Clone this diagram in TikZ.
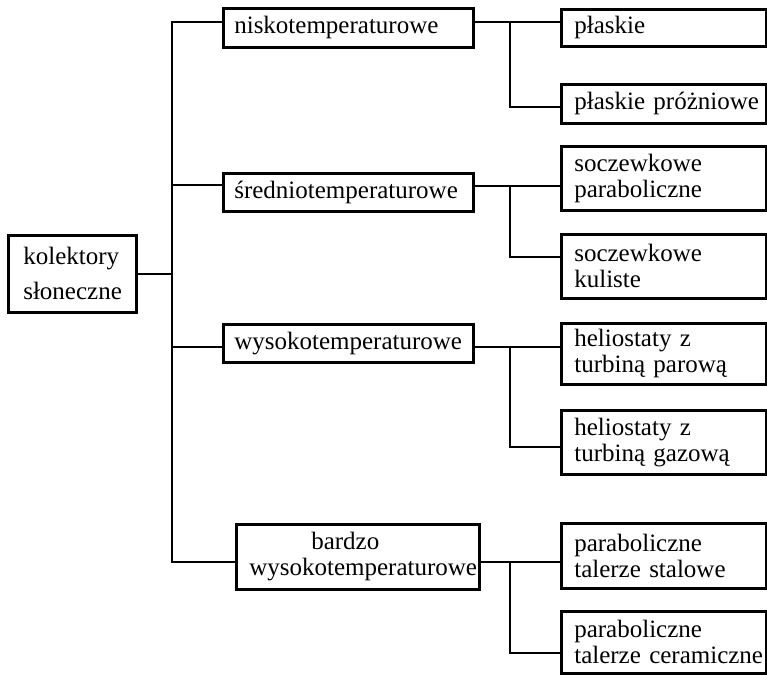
\documentclass[tikz,border=0pt]{standalone}
\usepackage{fontspec}
\setmainfont{Liberation Serif}
\begin{document}
\begin{tikzpicture}[x=1pt,y=-1pt,
  every node/.style={font=\fontsize{25}{26}\selectfont},
  box/.style={draw,line width=2.6pt,rectangle,anchor=north west,inner ysep=0pt,align=left},
  lone/.style={box,inner xsep=11pt,text width=228pt,minimum width=250pt},
  ltwo/.style={box,inner xsep=13pt,text width=179pt,minimum width=205pt},
  conn/.style={line width=2.6pt,line cap=rect}]
\useasboundingbox (0,0) rectangle (767,674);
% root
\node[box,inner xsep=15pt,text width=98pt,minimum width=128pt,minimum height=77pt,
  font=\fontsize{25}{35}\selectfont] (root) at (7,234) {\mbox{kolektory}\\\mbox{słoneczne}};
% level 1
\node[lone,minimum height=39pt] (n1) at (222,7) {\mbox{niskotemperaturowe}};
\node[lone,minimum height=38pt] (n2) at (222,172) {\mbox{średniotemperaturowe}};
\node[lone,minimum height=38pt] (n3) at (222,323) {\mbox{wysokotemperaturowe}};
\node[box,inner xsep=13pt,text width=217pt,minimum width=243pt,minimum height=65pt] (n4) at (235,523) {\hspace*{62pt}\mbox{bardzo}\\\mbox{wysokotemperaturowe}};
% level 2
\node[ltwo,minimum height=37pt] (m1) at (560,8) {\mbox{płaskie}};
\node[ltwo,minimum height=39pt] (m2) at (560,83) {\mbox{płaskie próżniowe}};
\node[ltwo,minimum height=64pt] (m3) at (560,145) {\mbox{soczewkowe}\\\mbox{paraboliczne}};
\node[ltwo,minimum height=64pt] (m4) at (560,233) {\mbox{soczewkowe}\\\mbox{kuliste}};
\node[ltwo,minimum height=61pt] (m5) at (560,322) {\mbox{heliostaty z}\\\mbox{turbiną parową}};
\node[ltwo,minimum height=64pt] (m6) at (560,409) {\mbox{heliostaty z}\\\mbox{turbiną gazową}};
\node[ltwo,minimum height=65pt] (m7) at (560,522) {\mbox{paraboliczne}\\\mbox{talerze stalowe}};
\node[ltwo,minimum height=62pt] (m8) at (560,610) {\mbox{paraboliczne}\\\mbox{talerze ceramiczne}};
% main spine
\coordinate (a1) at (172,22);
\coordinate (a2) at (172,185);
\coordinate (a3) at (172,347);
\coordinate (a4) at (172,562);
\draw[conn] (a1) -- (a4);
\draw[conn] (root.east) -- (root.east -| a1);
\draw[conn] (a1) -- (a1 -| n1.west);
\draw[conn] (a2) -- (a2 -| n2.west);
\draw[conn] (a3) -- (a3 -| n3.west);
\draw[conn] (a4) -- (a4 -| n4.west);
% sub spines
\coordinate (t1) at (510,22);  \coordinate (u1) at (510,107);
\coordinate (t2) at (510,186); \coordinate (u2) at (510,257);
\coordinate (t3) at (510,347); \coordinate (u3) at (510,447);
\coordinate (t4) at (510,562); \coordinate (u4) at (510,653);
\draw[conn] (t1 -| n1.east) -- (t1 -| m1.west);
\draw[conn] (t1) -- (u1) -- (u1 -| m2.west);
\draw[conn] (t2 -| n2.east) -- (t2 -| m3.west);
\draw[conn] (t2) -- (u2) -- (u2 -| m4.west);
\draw[conn] (t3 -| n3.east) -- (t3 -| m5.west);
\draw[conn] (t3) -- (u3) -- (u3 -| m6.west);
\draw[conn] (t4 -| n4.east) -- (t4 -| m7.west);
\draw[conn] (t4) -- (u4) -- (u4 -| m8.west);
\end{tikzpicture}
\end{document}
